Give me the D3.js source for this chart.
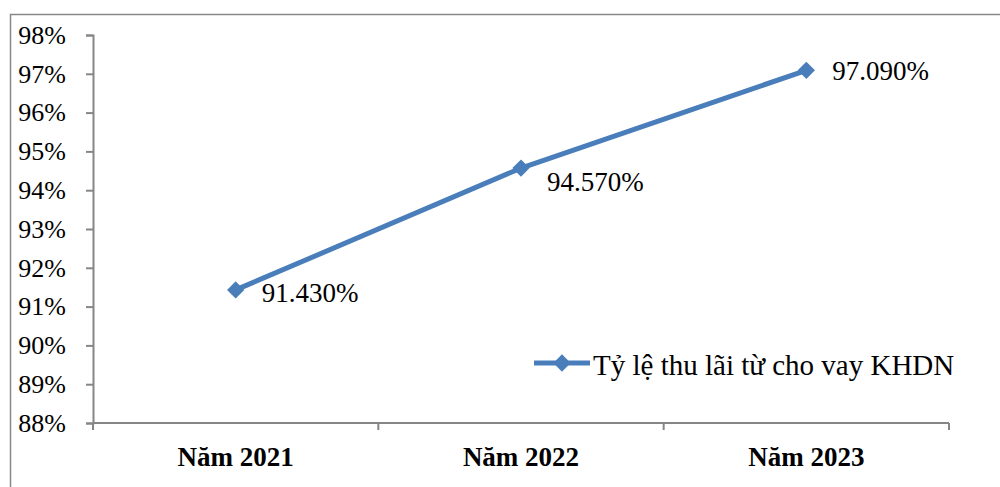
<!DOCTYPE html>
<html>
<head>
<meta charset="utf-8">
<script src="https://cdn.jsdelivr.net/npm/d3@7"></script>
<style>
  body { margin: 0; background: #fff; }
  svg { display: block; }
  svg text { font-family: "Liberation Serif", "Times New Roman", "DejaVu Serif", serif; }
</style>
</head>
<body>
<div id="wrapper"></div>
<script>
// Chart data
const categories = ["Năm 2021", "Năm 2022", "Năm 2023"]
const values = [91.43, 94.57, 97.09]
const valueLabels = ["91.430%", "94.570%", "97.090%"]
const yTicks = [88, 89, 90, 91, 92, 93, 94, 95, 96, 97, 98]
const seriesName = "Tỷ lệ thu lãi từ cho vay KHDN"

function drawLineChart() {
    const width = 1000
    const height = 487
    const margin = { top: 35, right: 51, bottom: 64, left: 93 }
    const boundedWidth = width - margin.left - margin.right
    const boundedHeight = height - margin.top - margin.bottom

    const svg = d3.select("#wrapper")
        .append("svg")
        .attr("width", width)
        .attr("height", height)

    // Outer chart frame (cut off on the right and bottom)
    svg.append("rect")
        .attr("x", 10.5)
        .attr("y", 14.5)
        .attr("width", 1100)
        .attr("height", 600)
        .attr("fill", "none")
        .attr("stroke", "#888")
        .attr("stroke-width", 1.5)

    const bounds = svg.append("g")
        .attr("transform", `translate(${margin.left},${margin.top})`)

    const yScale = d3.scaleLinear()
        .domain([88, 98])
        .range([boundedHeight, 0])

    const xBand = d3.scaleBand()
        .domain(categories)
        .range([0, boundedWidth])

    const xCenter = d => xBand(d) + xBand.bandwidth() / 2

    // y axis
    const yAxis = bounds.append("g")
        .call(d3.axisLeft(yScale)
            .tickValues(yTicks)
            .tickSize(7)
            .tickPadding(20)
            .tickFormat(d => d + "%"))
    yAxis.attr("font-family", null).attr("font-size", null)
    yAxis.select(".domain").attr("stroke", "#868686").attr("stroke-width", 2)
    yAxis.selectAll(".tick line").attr("stroke", "#868686").attr("stroke-width", 2)
    yAxis.selectAll(".tick text")
        .attr("font-size", 26)
        .attr("fill", "#000")

    // x axis with ticks at category boundaries
    const xAxis = bounds.append("g")
        .attr("transform", `translate(0,${boundedHeight})`)
    xAxis.append("line")
        .attr("x1", 0).attr("x2", boundedWidth)
        .attr("stroke", "#868686").attr("stroke-width", 2)
    const boundaries = categories.map(c => xBand(c)).concat([boundedWidth])
    xAxis.selectAll(".bound")
        .data(boundaries)
        .join("line")
        .attr("x1", d => d).attr("x2", d => d)
        .attr("y1", 0).attr("y2", 7)
        .attr("stroke", "#868686").attr("stroke-width", 2)
    xAxis.selectAll(".cat")
        .data(categories)
        .join("text")
        .attr("x", d => xCenter(d))
        .attr("y", 43)
        .attr("text-anchor", "middle")
        .attr("font-size", 27)
        .attr("font-weight", "bold")
        .attr("fill", "#000")
        .text(d => d)

    const points = categories.map((c, i) => ({ cat: c, value: values[i], label: valueLabels[i] }))

    const lineGenerator = d3.line()
        .x(d => xCenter(d.cat))
        .y(d => yScale(d.value))

    const color = "#4A7EBB"

    bounds.append("path")
        .attr("d", lineGenerator(points))
        .attr("fill", "none")
        .attr("stroke", color)
        .attr("stroke-width", 5)
        .attr("stroke-linejoin", "round")

    const diamond = d3.symbol().type(d3.symbolDiamond2).size(190)

    bounds.selectAll(".marker")
        .data(points)
        .join("path")
        .attr("d", diamond)
        .attr("transform", d => `translate(${xCenter(d.cat)},${yScale(d.value)})`)
        .attr("fill", color)

    // data labels
    const labelOffsets = [12, 23, 10]
    bounds.selectAll(".label")
        .data(points)
        .join("text")
        .attr("x", d => xCenter(d.cat) + 26)
        .attr("y", (d, i) => yScale(d.value) + labelOffsets[i])
        .attr("font-size", 27)
        .attr("fill", "#000")
        .text(d => d.label)

    // legend
    const legend = svg.append("g")
        .attr("transform", "translate(534,363)")
    legend.append("line")
        .attr("x1", 0).attr("x2", 56)
        .attr("stroke", color)
        .attr("stroke-width", 5)
    legend.append("path")
        .attr("d", diamond)
        .attr("transform", "translate(28,0)")
        .attr("fill", color)
    legend.append("text")
        .attr("x", 59)
        .attr("y", 12)
        .attr("font-size", 29)
        .attr("fill", "#000")
        .text(seriesName)
}

drawLineChart()
</script>
</body>
</html>
